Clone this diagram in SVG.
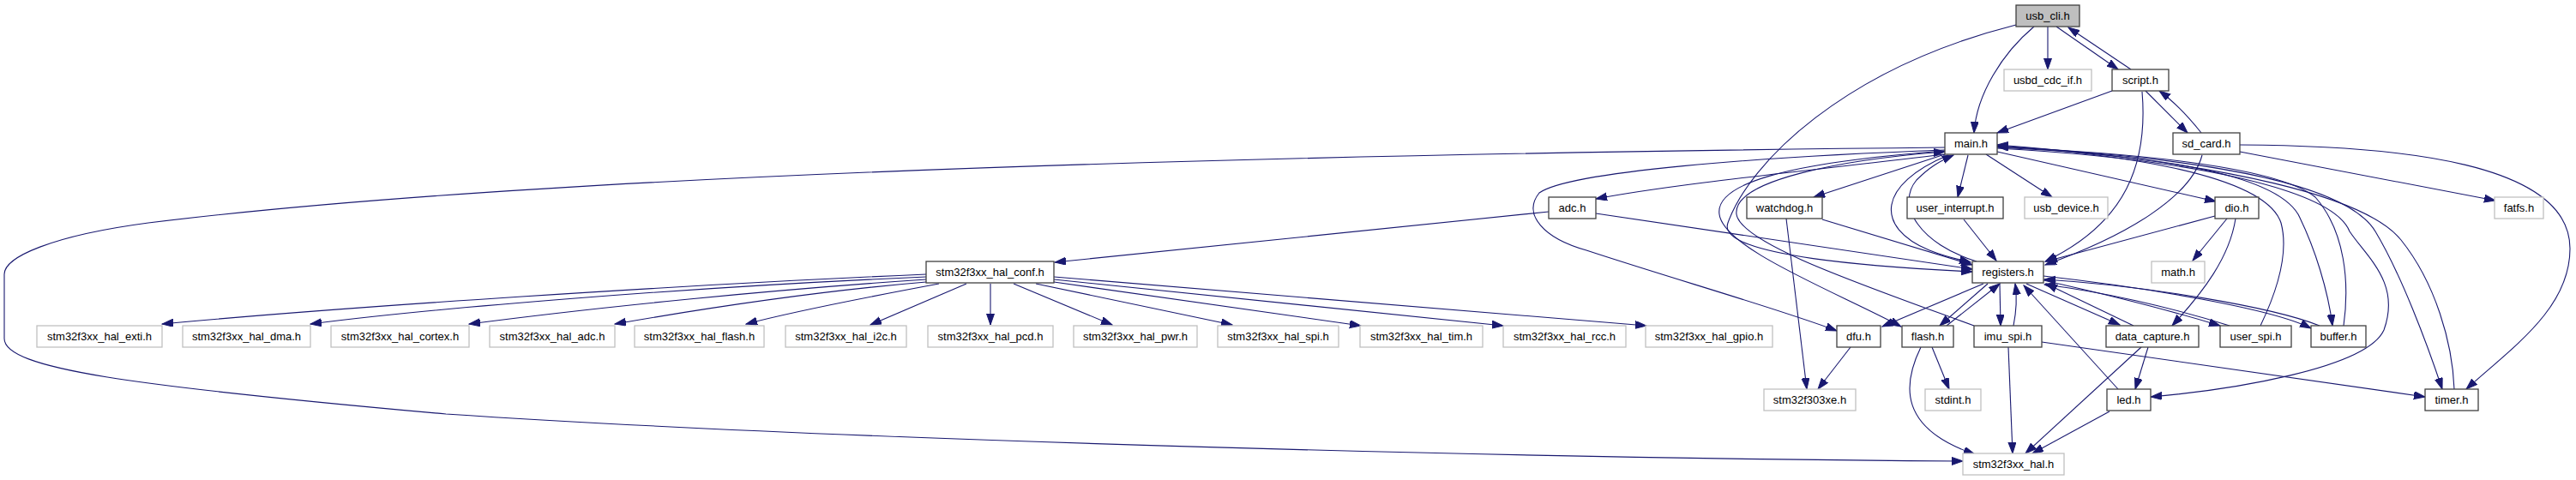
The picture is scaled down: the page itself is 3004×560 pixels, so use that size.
<svg xmlns="http://www.w3.org/2000/svg" width="3004" height="560" viewBox="0 0 3004 560">
<style>
.n rect{fill:#fff;stroke:#404040;stroke-width:1.3}
.x rect{fill:#fff;stroke:#c0c0c0;stroke-width:1.3}
.r rect{fill:#bfbfbf;stroke:#404040;stroke-width:1.3}
text{font-family:"Liberation Sans",Arial,sans-serif;font-size:13px;fill:#000;text-anchor:middle}
#edges path{fill:none;stroke:#191970;stroke-width:1.1;marker-end:url(#a)}
</style>
<defs>
<marker id="a" markerUnits="userSpaceOnUse" markerWidth="14" markerHeight="10" refX="13" refY="4.5" orient="auto"><path d="M0,0 L13,4.5 L0,9 z" fill="#191970" stroke="#191970"/></marker>
</defs>
<rect width="3004" height="560" fill="#fff"/>
<g id="edges">
<path d="M2372,31 C2335,62 2305,110 2302,155"/>
<path d="M2388,31 L2388,81"/>
<path d="M2398,31 L2470,81"/>
<path d="M2485,81 L2412,32"/>
<path d="M2351,29 C2150,80 2040,190 2015,260 C2000,300 2200,312 2300,317"/>
<path d="M2463,106 L2329,155"/>
<path d="M2498,107 C2505,190 2480,260 2385,305"/>
<path d="M2502,106 L2551,155"/>
<path d="M2567,155 C2555,140 2540,122 2518,106"/>
<path d="M2568,181 C2555,230 2480,275 2385,309"/>
<path d="M2612,177 L2910,234"/>
<path d="M2612,169 C2800,170 2997,190 2997,290 C2997,360 2930,405 2876,454"/>
<path d="M2268,180 L2115,230"/>
<path d="M2295,181 L2283,230"/>
<path d="M2316,180 L2393,230"/>
<path d="M2329,177 L2584,235"/>
<path d="M2268,180 C2100,200 1950,215 1861,232"/>
<path d="M2268,175 C2050,183 1830,200 1795,225 C1775,250 1800,278 1850,292 C1950,325 2080,362 2142,386"/>
<path d="M2268,172 C1700,178 700,195 173,260 C60,275 5,300 5,320 L5,395 C5,430 150,450 520,483 C1000,515 1800,535 2289,538"/>
<path d="M2268,176 C2080,190 2000,215 2005,250 C2010,290 2140,340 2217,381"/>
<path d="M2302,380 C2180,335 2030,285 2025,250 C2020,210 2150,186 2268,177"/>
<path d="M2272,181 C2190,215 2185,265 2250,292 C2270,300 2285,303 2298,306"/>
<path d="M2305,305 C2240,285 2210,240 2235,210 C2250,195 2262,188 2278,181"/>
<path d="M1861,249 L2300,314"/>
<path d="M1806,247 L1230,306"/>
<path d="M2125,256 L2300,309"/>
<path d="M2083,255 L2107,454"/>
<path d="M2290,256 L2328,304"/>
<path d="M2583,252 L2386,305"/>
<path d="M2597,255 L2557,304"/>
<path d="M2607,255 C2600,300 2570,340 2533,380"/>
<path d="M1080,320 C800,332 400,358 189,378"/>
<path d="M1080,323 C800,335 500,360 362,378"/>
<path d="M1080,326 C900,338 700,358 547,378"/>
<path d="M1080,329 C950,340 820,360 717,378"/>
<path d="M1095,331 C1020,345 930,362 870,378"/>
<path d="M1127,331 L1015,379"/>
<path d="M1155,331 L1155,379"/>
<path d="M1182,331 L1297,379"/>
<path d="M1208,331 L1437,379"/>
<path d="M1229,329 L1587,380"/>
<path d="M1229,326 L1753,380"/>
<path d="M1229,323 L1920,380"/>
<path d="M2313,331 L2195,381"/>
<path d="M2318,331 L2262,380"/>
<path d="M2270,380 L2332,331"/>
<path d="M2332,331 L2333,380"/>
<path d="M2348,380 C2352,360 2352,345 2350,331"/>
<path d="M2363,331 L2472,379"/>
<path d="M2488,380 L2386,331"/>
<path d="M2383,327 C2450,342 2530,362 2589,380"/>
<path d="M2600,380 C2530,358 2450,340 2384,332"/>
<path d="M2383,322 C2500,335 2650,360 2695,383"/>
<path d="M2705,380 C2650,358 2500,333 2384,326"/>
<path d="M2470,454 L2360,333"/>
<path d="M2505,405 L2490,454"/>
<path d="M2497,405 L2362,529"/>
<path d="M2460,480 L2370,529"/>
<path d="M2342,405 L2347,529"/>
<path d="M2381,399 L2828,463"/>
<path d="M2240,405 C2218,450 2215,500 2303,530"/>
<path d="M2253,405 L2273,454"/>
<path d="M2158,405 L2120,454"/>
<path d="M2636,380 C2660,330 2668,290 2660,260 C2640,200 2450,178 2329,170"/>
<path d="M2329,172 C2500,180 2650,200 2680,250 C2700,290 2715,340 2720,380"/>
<path d="M2733,380 C2740,330 2735,270 2700,230 C2650,190 2450,177 2329,171"/>
<path d="M2329,173 C2550,185 2720,220 2740,270 C2760,300 2800,330 2780,385 C2760,430 2600,455 2508,463"/>
<path d="M2329,171 C2600,185 2740,220 2770,270 C2800,320 2830,400 2848,454"/>
<path d="M2862,454 C2860,400 2840,330 2800,280 C2760,230 2600,190 2329,169"/>
</g>
<g id="usb_cli" class="r"><rect x="2351" y="6" width="74" height="25"/><text x="2388" y="23">usb_cli.h</text></g>
<g id="usbd_cdc_if" class="x"><rect x="2337" y="81" width="102" height="25"/><text x="2388" y="98">usbd_cdc_if.h</text></g>
<g id="script" class="n"><rect x="2463" y="81" width="66" height="25"/><text x="2496" y="98">script.h</text></g>
<g id="main" class="n"><rect x="2268" y="155" width="61" height="25"/><text x="2298.5" y="172">main.h</text></g>
<g id="sd_card" class="n"><rect x="2534" y="155" width="78" height="25"/><text x="2573" y="172">sd_card.h</text></g>
<g id="adc" class="n"><rect x="1806" y="230" width="55" height="25"/><text x="1833.5" y="247">adc.h</text></g>
<g id="watchdog" class="n"><rect x="2037" y="230" width="88" height="25"/><text x="2081" y="247">watchdog.h</text></g>
<g id="user_interrupt" class="n"><rect x="2224" y="230" width="112" height="25"/><text x="2280" y="247">user_interrupt.h</text></g>
<g id="usb_device" class="x"><rect x="2361" y="230" width="97" height="25"/><text x="2409.5" y="247">usb_device.h</text></g>
<g id="dio" class="n"><rect x="2583" y="230" width="51" height="25"/><text x="2608.5" y="247">dio.h</text></g>
<g id="fatfs" class="x"><rect x="2909" y="230" width="57" height="25"/><text x="2937.5" y="247">fatfs.h</text></g>
<g id="hal_conf" class="n"><rect x="1080" y="305" width="149" height="25"/><text x="1154.5" y="322">stm32f3xx_hal_conf.h</text></g>
<g id="registers" class="n"><rect x="2300" y="305" width="83" height="25"/><text x="2341.5" y="322">registers.h</text></g>
<g id="math" class="x"><rect x="2509" y="305" width="62" height="25"/><text x="2540" y="322">math.h</text></g>
<g id="hal_exti" class="x"><rect x="43" y="380" width="146" height="25"/><text x="116" y="397">stm32f3xx_hal_exti.h</text></g>
<g id="hal_dma" class="x"><rect x="213" y="380" width="149" height="25"/><text x="287.5" y="397">stm32f3xx_hal_dma.h</text></g>
<g id="hal_cortex" class="x"><rect x="386" y="380" width="161" height="25"/><text x="466.5" y="397">stm32f3xx_hal_cortex.h</text></g>
<g id="hal_adc" class="x"><rect x="571" y="380" width="146" height="25"/><text x="644" y="397">stm32f3xx_hal_adc.h</text></g>
<g id="hal_flash" class="x"><rect x="740" y="380" width="151" height="25"/><text x="815.5" y="397">stm32f3xx_hal_flash.h</text></g>
<g id="hal_i2c" class="x"><rect x="916" y="380" width="141" height="25"/><text x="986.5" y="397">stm32f3xx_hal_i2c.h</text></g>
<g id="hal_pcd" class="x"><rect x="1082" y="380" width="146" height="25"/><text x="1155" y="397">stm32f3xx_hal_pcd.h</text></g>
<g id="hal_pwr" class="x"><rect x="1252" y="380" width="144" height="25"/><text x="1324" y="397">stm32f3xx_hal_pwr.h</text></g>
<g id="hal_spi" class="x"><rect x="1420" y="380" width="141" height="25"/><text x="1490.5" y="397">stm32f3xx_hal_spi.h</text></g>
<g id="hal_tim" class="x"><rect x="1586" y="380" width="143" height="25"/><text x="1657.5" y="397">stm32f3xx_hal_tim.h</text></g>
<g id="hal_rcc" class="x"><rect x="1753" y="380" width="143" height="25"/><text x="1824.5" y="397">stm32f3xx_hal_rcc.h</text></g>
<g id="hal_gpio" class="x"><rect x="1919" y="380" width="148" height="25"/><text x="1993" y="397">stm32f3xx_hal_gpio.h</text></g>
<g id="dfu" class="n"><rect x="2142" y="380" width="51" height="25"/><text x="2167.5" y="397">dfu.h</text></g>
<g id="flash" class="n"><rect x="2218" y="380" width="60" height="25"/><text x="2248" y="397">flash.h</text></g>
<g id="imu_spi" class="n"><rect x="2302" y="380" width="79" height="25"/><text x="2341.5" y="397">imu_spi.h</text></g>
<g id="data_capture" class="n"><rect x="2456" y="380" width="108" height="25"/><text x="2510" y="397">data_capture.h</text></g>
<g id="user_spi" class="n"><rect x="2589" y="380" width="83" height="25"/><text x="2630.5" y="397">user_spi.h</text></g>
<g id="buffer" class="n"><rect x="2695" y="380" width="64" height="25"/><text x="2727" y="397">buffer.h</text></g>
<g id="stm32f303xe" class="x"><rect x="2057" y="454" width="107" height="25"/><text x="2110.5" y="471">stm32f303xe.h</text></g>
<g id="stdint" class="x"><rect x="2245" y="454" width="65" height="25"/><text x="2277.5" y="471">stdint.h</text></g>
<g id="led" class="n"><rect x="2457" y="454" width="51" height="25"/><text x="2482.5" y="471">led.h</text></g>
<g id="timer" class="n"><rect x="2828" y="454" width="62" height="25"/><text x="2859" y="471">timer.h</text></g>
<g id="stm32f3xx_hal" class="x"><rect x="2289" y="529" width="118" height="25"/><text x="2348" y="546">stm32f3xx_hal.h</text></g>
</svg>
